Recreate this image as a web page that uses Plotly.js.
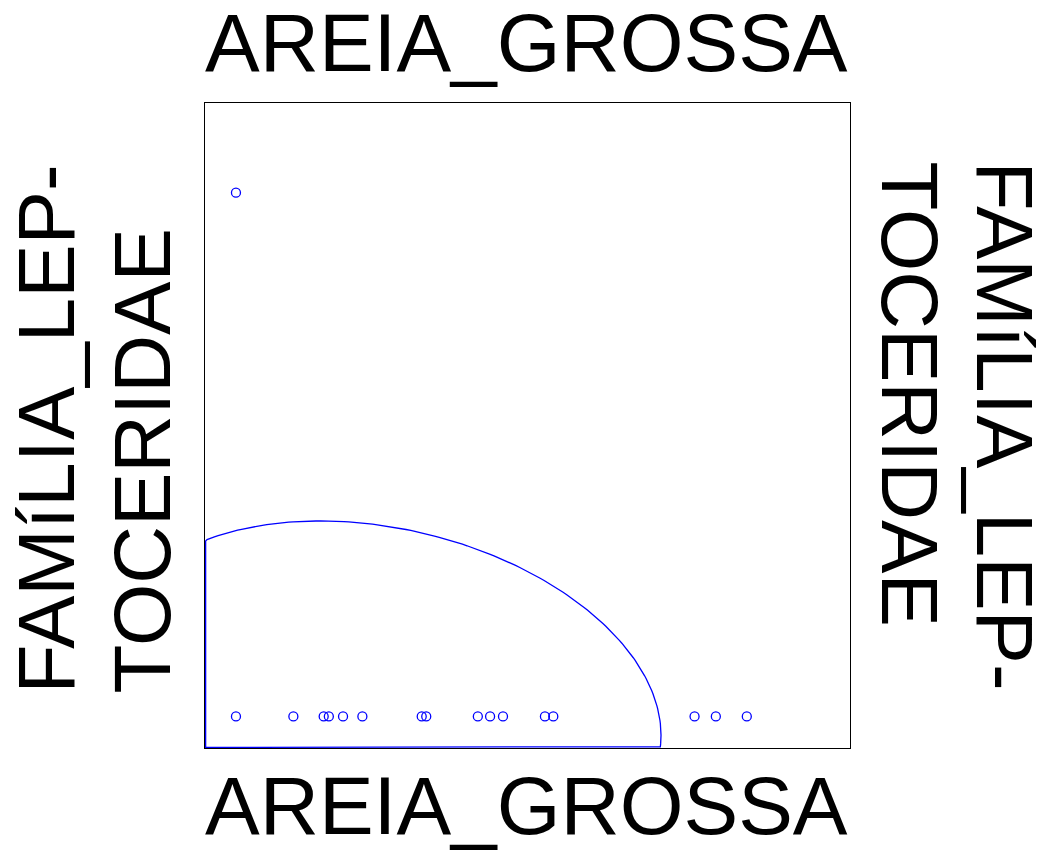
<!DOCTYPE html>
<html>
<head>
<meta charset="utf-8">
<script src="https://cdn.plot.ly/plotly-3.0.1.min.js"></script>
<style>html,body{margin:0;padding:0;background:#fff;}#chart{width:1042px;height:850px;}</style>
</head>
<body>
<div id="chart"></div>
<script>
// Data
const areiaGrossa = [4.8, 4.8, 13.7, 18.4, 19.2, 21.4, 24.4, 33.6, 34.3, 42.3, 44.2, 46.2, 52.7, 54.0, 75.9, 79.2, 84.0];
const familiaLeptoceridae = [86.1, 4.9, 4.9, 4.9, 4.9, 4.9, 4.9, 4.9, 4.9, 4.9, 4.9, 4.9, 4.9, 4.9, 4.9, 4.9, 4.9];
const xTitle = "AREIA_GROSSA";
const yTitleLines = ["FAMíLIA_LEP-", "TOCERIDAE"];
const axisRange = [0, 100];

// Ellipse parameters (centre and covariance-like shape)
const ellCx = 28.2, ellCy = 8.5;
const ellSx = 42.5, ellSy = 26.7, ellSxy = -277;

const ex = [], ey = [];
const N = 360;
const r21 = ellSxy / ellSx;
const r22 = Math.sqrt(ellSy * ellSy - r21 * r21);
const eps = 0.1;
for (let i = 0; i <= N; i++) {
  const t = 2 * Math.PI * i / N;
  let x = ellCx + ellSx * Math.cos(t);
  let y = ellCy + r21 * Math.cos(t) + r22 * Math.sin(t);
  x = Math.min(axisRange[1] - eps, Math.max(axisRange[0] + eps, x));
  y = Math.min(axisRange[1] - eps, Math.max(axisRange[0] + eps, y));
  ex.push(x); ey.push(y);
}

const blue = "#0000ff";
const traces = [
  {x: ex, y: ey, type: "scatter", mode: "lines", line: {color: blue, width: 1.3}, hoverinfo: "skip"},
  {x: areiaGrossa, y: familiaLeptoceridae, type: "scatter", mode: "markers",
   marker: {symbol: "circle-open", size: 9, color: blue, line: {width: 1.3, color: blue}}}
];

const font = {family: "Liberation Sans, Arial, sans-serif", size: 80, color: "#000"};
const fontX = {family: "Liberation Sans, Arial, sans-serif", size: 82, color: "#000"};
const axisCommon = {range: axisRange, showgrid: false, zeroline: false, showticklabels: false, ticks: "",
  showline: true, mirror: true, linecolor: "#000", linewidth: 1.2, layer: "below traces", fixedrange: true};

const layout = {
  width: 1042, height: 850,
  margin: {l: 205, r: 192, t: 103, b: 102},
  paper_bgcolor: "#fff", plot_bgcolor: "#fff",
  showlegend: false,
  xaxis: Object.assign({}, axisCommon),
  yaxis: Object.assign({}, axisCommon),
  annotations: [
    {text: xTitle, xref: "paper", yref: "paper", x: 0.5, y: 1, yanchor: "middle", showarrow: false, font: fontX, yshift: 61, xshift: -1},
    {text: xTitle, xref: "paper", yref: "paper", x: 0.5, y: 0, yanchor: "middle", showarrow: false, font: fontX, yshift: -57, xshift: -1},
    {text: yTitleLines[0], xref: "paper", yref: "paper", x: 0, y: 0, xanchor: "center", yanchor: "bottom", showarrow: false, font: font, textangle: -90, xshift: -159, yshift: 52},
    {text: yTitleLines[1], xref: "paper", yref: "paper", x: 0, y: 0, xanchor: "center", yanchor: "bottom", showarrow: false, font: font, textangle: -90, xshift: -63, yshift: 52},
    {text: yTitleLines[0], xref: "paper", yref: "paper", x: 1, y: 1, xanchor: "center", yanchor: "top", showarrow: false, font: font, textangle: 90, xshift: 154, yshift: -56},
    {text: yTitleLines[1], xref: "paper", yref: "paper", x: 1, y: 1, xanchor: "center", yanchor: "top", showarrow: false, font: font, textangle: 90, xshift: 59, yshift: -56}
  ]
};

Plotly.newPlot("chart", traces, layout, {displayModeBar: false, staticPlot: true});
</script>
</body>
</html>
